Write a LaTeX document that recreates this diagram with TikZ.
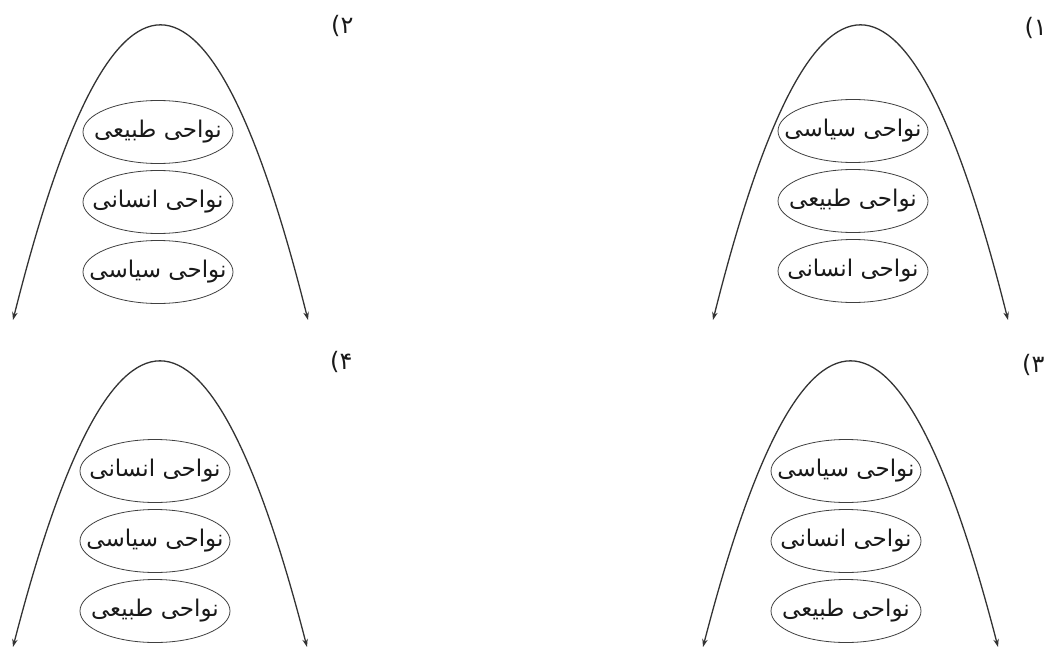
\documentclass[tikz,border=0pt]{standalone}
\usepackage{fontspec}
\usetikzlibrary{shapes.geometric, positioning, arrows.meta}
\TeXXeTstate=1
\newfontfamily\arabicfont[Script=Arabic]{DejaVu Sans}
\newfontfamily\plainfont{DejaVu Sans}
\newcommand{\fa}[1]{\makebox[0pt]{\arabicfont\beginR #1\endR}}
\newcommand{\optnum}[1]{{\plainfont(}{\arabicfont #1}}

\begin{document}
\begin{tikzpicture}[x=1pt, y=-1pt, node distance=70pt,
        region/.style={ellipse, draw=black!75, line width=0.8pt, minimum width=150pt,
            minimum height=63pt, inner sep=0pt, text=black!90, font=\fontsize{23}{28}\selectfont},
        arch/.style={draw=black!80, line width=1.3pt,
            {Stealth[length=8pt,width=5.5pt]}-{Stealth[length=8pt,width=5.5pt]}},
        num/.style={inner sep=0pt, text=black!90, font=\fontsize{24}{28}\selectfont}]
        \useasboundingbox (0,0) rectangle (1048,655);

        % 1
        \node[num, anchor=east] (n1) at (1047,28) {\optnum{۱}};
        \node[region] (p1a) at (853,131) {\fa{نواحی سیاسی}};
        \node[region, below of=p1a] (p1b) {\fa{نواحی طبیعی}};
        \node[region, below of=p1b] (p1c) {\fa{نواحی انسانی}};
        \coordinate (l1) at (713,320);
        \coordinate (r1) at (1008,320);
        \draw[arch] (l1) .. controls (811.3,-72) and (909.7,-72) .. (r1);

        % 2
        \node[num, anchor=west] (n2) at (331,26) {\optnum{۲}};
        \node[region] (p2a) at (158,132) {\fa{نواحی طبیعی}};
        \node[region, below of=p2a] (p2b) {\fa{نواحی انسانی}};
        \node[region, below of=p2b] (p2c) {\fa{نواحی سیاسی}};
        \coordinate (l2) at (13,320);
        \coordinate (r2) at (308,320);
        \draw[arch] (l2) .. controls (111.3,-72) and (209.7,-72) .. (r2);

        % 3
        \node[num, anchor=west] (n3) at (1022,365) {\optnum{۳}};
        \node[region] (p3a) at (846,471) {\fa{نواحی سیاسی}};
        \node[region, below of=p3a] (p3b) {\fa{نواحی انسانی}};
        \node[region, below of=p3b] (p3c) {\fa{نواحی طبیعی}};
        \coordinate (l3) at (703,647);
        \coordinate (r3) at (998,647);
        \draw[arch] (l3) .. controls (801.3,267) and (899.7,267) .. (r3);

        % 4
        \node[num, anchor=west] (n4) at (330,362) {\optnum{۴}};
        \node[region] (p4a) at (155,471) {\fa{نواحی انسانی}};
        \node[region, below of=p4a] (p4b) {\fa{نواحی سیاسی}};
        \node[region, below of=p4b] (p4c) {\fa{نواحی طبیعی}};
        \coordinate (l4) at (13,647);
        \coordinate (r4) at (307,647);
        \draw[arch] (l4) .. controls (111,267) and (209,267) .. (r4);
\end{tikzpicture}
\end{document}
